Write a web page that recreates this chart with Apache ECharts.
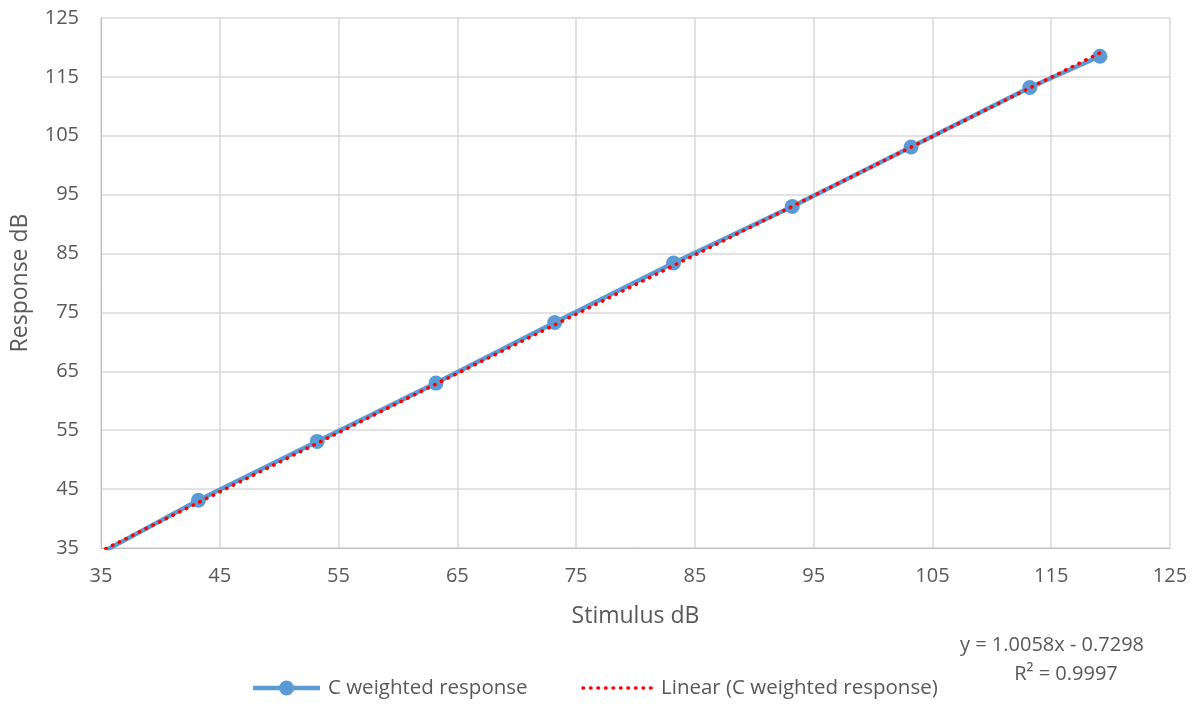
<!DOCTYPE html>
<html><head><meta charset="utf-8">
<script src="https://cdn.jsdelivr.net/npm/echarts@6/dist/echarts.min.js"></script>
<style>html,body{margin:0;padding:0;background:#fff}#c{width:1198px;height:706px}</style>
</head><body><div id="c"></div>
<script>
var stimulus = [35.4, 43.2, 53.2, 63.2, 73.2, 83.2, 93.2, 103.2, 113.2, 119.1];
var response = [34.6, 43.1, 53.1, 63.0, 73.3, 83.4, 93.0, 103.1, 113.2, 118.5];
var trendSlope = 1.0058;
var trendIntercept = -0.7298;
var trendLabel = ['y = 1.0058x - 0.7298', 'R² = 0.9997'];
var seriesName = 'C weighted response';
var trendName = 'Linear (C weighted response)';

var pts = stimulus.map(function(x,i){return [x, response[i]];});
var xMin = Math.min.apply(null, stimulus), xMax = Math.max.apply(null, stimulus);
var trendPts = [[xMin, trendSlope*xMin+trendIntercept],[xMax, trendSlope*xMax+trendIntercept]];

var txt = '#595959';
var font = 'Open Sans';
var blue = '#5b9bd5', red = '#ff0000';
var dotDash = [0.5, 7];
var chart = echarts.init(document.getElementById('c'));
chart.setOption({
  animation:false,
  textStyle:{fontFamily:font, color:txt},
  grid:{left:101, right:28, top:18, bottom:158},
  xAxis:{type:'value', min:35, max:125, interval:10,
    name:'Stimulus dB', nameLocation:'middle', nameGap:57,
    nameTextStyle:{fontSize:23, color:txt, fontFamily:font},
    axisLine:{lineStyle:{color:'#bfbfbf', width:1}},
    axisTick:{show:false},
    axisLabel:{fontSize:20, color:txt, margin:18, fontFamily:font},
    splitLine:{show:true, lineStyle:{color:'#d9d9d9', width:1.5}}},
  yAxis:{type:'value', min:35, max:125, interval:10,
    name:'Response dB', nameLocation:'middle', nameGap:69,
    nameTextStyle:{fontSize:23, color:txt, fontFamily:font},
    axisLine:{show:true, lineStyle:{color:'#bfbfbf', width:1}},
    axisTick:{show:false},
    axisLabel:{fontSize:20, color:txt, margin:22, fontFamily:font},
    splitLine:{show:true, lineStyle:{color:'#d9d9d9', width:1.5}}},
  graphic:[
    {type:'text', x:1052, y:645, style:{text:trendLabel[0], font:'20px "Open Sans"', fill:txt, textAlign:'center', textVerticalAlign:'middle'}},
    {type:'text', x:1066, y:674, style:{text:trendLabel[1], font:'20px "Open Sans"', fill:txt, textAlign:'center', textVerticalAlign:'middle'}},
    {type:'line', shape:{x1:253, y1:688, x2:320, y2:688}, style:{stroke:blue, lineWidth:4.5}},
    {type:'circle', shape:{cx:286.5, cy:688, r:7.5}, style:{fill:blue}},
    {type:'text', x:328, y:688, style:{text:seriesName, font:'20.5px "Open Sans"', fill:txt, textAlign:'left', textVerticalAlign:'middle'}},
    {type:'line', shape:{x1:583, y1:688, x2:655, y2:688}, style:{stroke:red, lineWidth:3.5, lineDash:dotDash, lineCap:'round'}},
    {type:'text', x:661, y:688, style:{text:trendName, font:'20.5px "Open Sans"', fill:txt, textAlign:'left', textVerticalAlign:'middle'}}
  ],
  series:[
    {name:seriesName, type:'line', data:pts, clip:true, symbol:'circle', symbolSize:15,
     lineStyle:{color:blue, width:4.5}, itemStyle:{color:blue}, z:2},
    {name:trendName, type:'line', data:trendPts, symbol:'none', clip:true,
     lineStyle:{color:red, width:3.5, type:dotDash, cap:'round'}, itemStyle:{color:red}, z:3}
  ]
});
</script></body></html>
